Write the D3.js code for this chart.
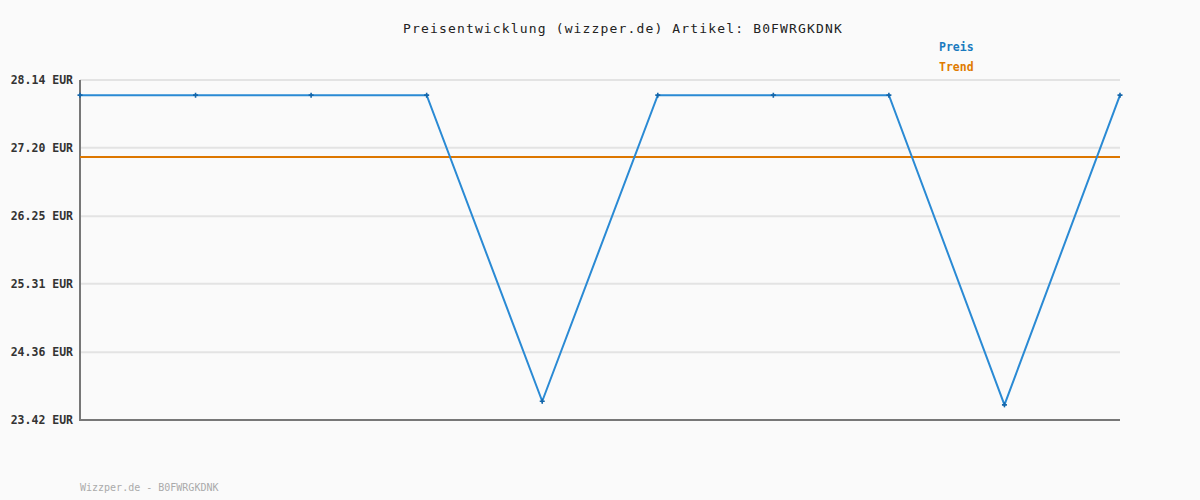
<!DOCTYPE html>
<html><head><meta charset="utf-8">
<script src="https://cdn.jsdelivr.net/npm/d3@7/dist/d3.min.js"></script>
<style>html,body{margin:0;padding:0;background:#fafafa;}svg{display:block;}</style>
</head><body><svg id="c" width="1200" height="500"></svg>
<script>
const titleText = "Preisentwicklung (wizzper.de) Artikel: B0FWRGKDNK";
const footerText = "Wizzper.de - B0FWRGKDNK";
const legendLabels = ["Preis", "Trend"];
const pointIndex = [0,1,2,3,4,5,6,7,8,9];
const priceValues = [27.93, 27.93, 27.93, 27.93, 23.68, 27.93, 27.93, 27.93, 23.63, 27.93];
const trendValue = [27.07];
const tickValues = [23.42, 24.36, 25.31, 26.25, 27.20, 28.14];
const tickLabels = ["23.42 EUR", "24.36 EUR", "25.31 EUR", "26.25 EUR", "27.20 EUR", "28.14 EUR"];

const svg = d3.select("#c");
const L = 80, R = 1120, T = 80, B = 420;
const x = d3.scaleLinear().domain([0, 9]).range([L, R]);
const y = d3.scaleLinear().domain([23.42, 28.14]).range([B, T]);
const mono = "'DejaVu Sans Mono', 'Liberation Mono', monospace";

svg.append("rect").attr("width",1200).attr("height",500).attr("fill","#fafafa");

// grid
svg.append("g").selectAll("line").data(tickValues).join("line")
  .attr("x1", L).attr("x2", R).attr("y1", d => y(d)).attr("y2", d => y(d))
  .attr("stroke", "#e3e3e3").attr("stroke-width", 2);

// y axis labels
const yAxis = d3.axisLeft(y).tickValues(tickValues).tickSize(0).tickPadding(7)
  .tickFormat((d,i) => tickLabels[i]);
const ga = svg.append("g").attr("transform", `translate(${L},0)`).call(yAxis);
ga.select(".domain").remove();
ga.selectAll("text").attr("font-family", mono).attr("font-size", "11.5px")
  .attr("font-weight", "bold").attr("fill", "#333");

// axes lines
svg.append("line").attr("x1", L).attr("x2", L).attr("y1", T).attr("y2", B+1)
  .attr("stroke", "#777").attr("stroke-width", 2);
svg.append("line").attr("x1", L-1).attr("x2", R).attr("y1", B).attr("y2", B)
  .attr("stroke", "#777").attr("stroke-width", 2);

// trend
svg.append("line").attr("x1", L).attr("x2", R)
  .attr("y1", y(trendValue[0])).attr("y2", y(trendValue[0]))
  .attr("stroke", "#dd7700").attr("stroke-width", 2);

// price line
const line = d3.line().x((d,i) => x(pointIndex[i])).y(d => y(d));
svg.append("path").datum(priceValues).attr("d", line)
  .attr("fill", "none").attr("stroke", "#2a8ad4").attr("stroke-width", 2);

// markers (small crosses)
const mk = svg.append("g");
priceValues.forEach((v,i) => {
  const cx = x(pointIndex[i]), cy = y(v);
  mk.append("path").attr("d", `M${cx-2.5},${cy}H${cx+2.5}M${cx},${cy-2.5}V${cy+2.5}`)
    .attr("stroke", "#1466aa").attr("stroke-width", 1.6);
});

// title
svg.append("text").attr("x", 623).attr("y", 33).attr("text-anchor", "middle")
  .attr("font-family", mono).attr("font-size", "13px").attr("letter-spacing", "1.15px")
  .attr("fill", "#222").text(titleText);

// legend
const legColors = ["#1a7abf", "#e07b00"];
svg.append("g").selectAll("text").data(legendLabels).join("text")
  .attr("x", 939).attr("y", (d,i) => 51 + i*20)
  .attr("font-family", mono).attr("font-size", "11.5px").attr("font-weight", "bold")
  .attr("fill", (d,i) => legColors[i]).text(d => d);

// footer
svg.append("text").attr("x", 80).attr("y", 491)
  .attr("font-family", mono).attr("font-size", "10px")
  .attr("fill", "#aaa").text(footerText);
</script></body></html>
